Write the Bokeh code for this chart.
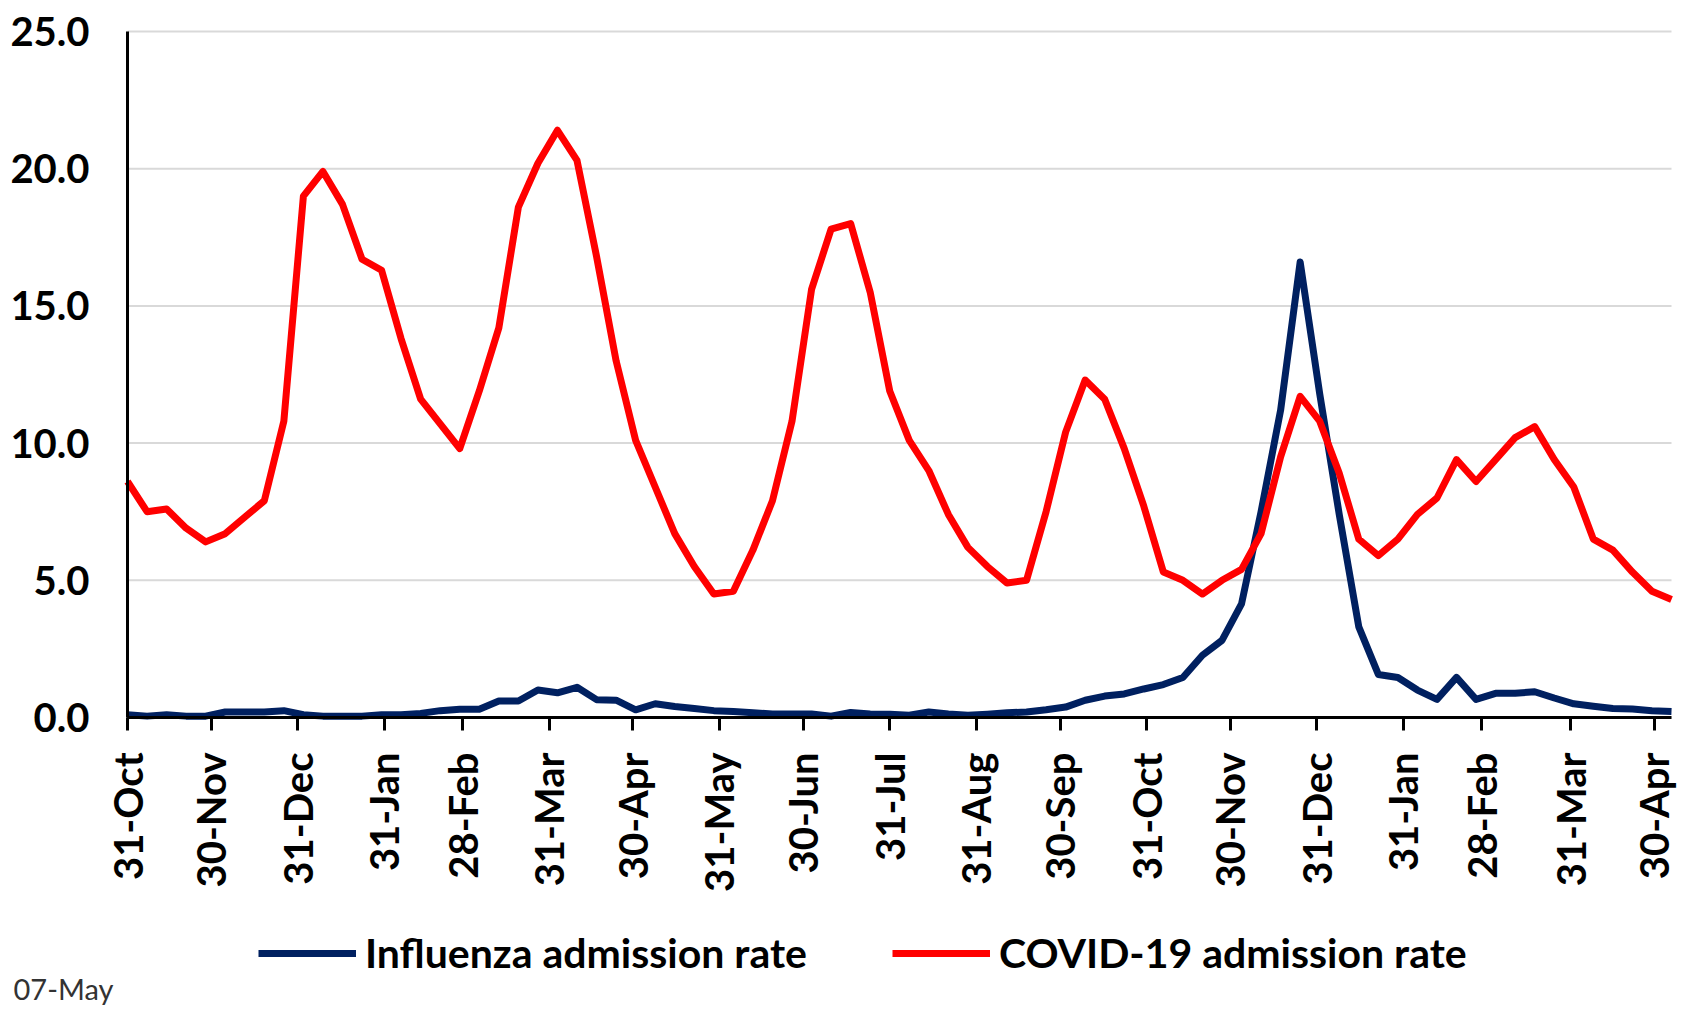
import math
import numpy as np
import pandas as pd
from bokeh.plotting import figure
from bokeh.models import (Range1d, FixedTicker, Legend, Label, NumeralTickFormatter,
                          CustomJSTickFormatter)
from bokeh.embed import file_html
from bokeh.resources import INLINE

# ---------------- data ----------------
start_date = "2022-10-31"   # first weekly point

covid_rate = [8.6, 7.5, 7.6, 6.9, 6.4, 6.7, 7.3, 7.9, 10.8, 19.0,
              19.9, 18.7, 16.7, 16.3, 13.8, 11.6, 10.7, 9.8, 11.9, 14.2,
              18.6, 20.2, 21.4, 20.3, 16.8, 13.0, 10.1, 8.4, 6.7, 5.5,
              4.5, 4.6, 6.1, 7.9, 10.8, 15.6, 17.8, 18.0, 15.5, 11.9,
              10.1, 9.0, 7.4, 6.2, 5.5, 4.9, 5.0, 7.5, 10.4, 12.3,
              11.6, 9.8, 7.7, 5.3, 5.0, 4.5, 5.0, 5.4, 6.7, 9.5,
              11.7, 10.8, 8.9, 6.5, 5.9, 6.5, 7.4, 8.0, 9.4, 8.6,
              9.4, 10.2, 10.6, 9.4, 8.4, 6.5, 6.1, 5.3, 4.6, 4.3]

flu_rate = [0.10, 0.05, 0.10, 0.05, 0.05, 0.20, 0.20, 0.20, 0.25, 0.10,
            0.05, 0.05, 0.05, 0.10, 0.10, 0.15, 0.25, 0.30, 0.30, 0.60,
            0.60, 1.00, 0.90, 1.10, 0.65, 0.63, 0.28, 0.50, 0.40, 0.33,
            0.25, 0.22, 0.17, 0.13, 0.13, 0.13, 0.05, 0.18, 0.13, 0.12,
            0.08, 0.20, 0.13, 0.08, 0.12, 0.17, 0.20, 0.28, 0.38, 0.63,
            0.78, 0.86, 1.04, 1.20, 1.46, 2.27, 2.81, 4.14, 7.50, 11.2,
            16.6, 11.8, 7.40, 3.30, 1.57, 1.46, 1.00, 0.66, 1.46, 0.66,
            0.88, 0.88, 0.94, 0.71, 0.50, 0.41, 0.33, 0.31, 0.25, 0.22]

tick_dates = ["2022-10-31", "2022-11-30", "2022-12-31", "2023-01-31", "2023-02-28",
              "2023-03-31", "2023-04-30", "2023-05-31", "2023-06-30", "2023-07-31",
              "2023-08-31", "2023-09-30", "2023-10-31", "2023-11-30", "2023-12-31",
              "2024-01-31", "2024-02-28", "2024-03-31", "2024-04-30"]
tick_labels = ["31-Oct", "30-Nov", "31-Dec", "31-Jan", "28-Feb", "31-Mar", "30-Apr",
               "31-May", "30-Jun", "31-Jul", "31-Aug", "30-Sep", "31-Oct", "30-Nov",
               "31-Dec", "31-Jan", "28-Feb", "31-Mar", "30-Apr"]
y_ticks = [0, 5, 10, 15, 20, 25]
series_names = ["Influenza admission rate", "COVID-19 admission rate"]
footnote = "07-May"

# ---------------- build ----------------
FONT = "Lato"
NAVY = "#002060"
RED = "#FF0000"

W, H = 1677, 1005                # canvas
PLOT_L, PLOT_R = 127, 1671       # plotting area (px, from canvas left)
PLOT_T, PLOT_B = 31, 717         # plotting area (px, from canvas top)
Y_MIN, Y_MAX = 0, 25


def to_ms(d):
    return pd.Timestamp(d).timestamp() * 1000.0


dates = pd.date_range(start_date, periods=len(covid_rate), freq="7D")
x = np.array([to_ms(d) for d in dates])
tick_ms = [to_ms(d) for d in tick_dates]
x0, x1 = float(x[0]), float(x[-1])

# ranges that put the data area exactly at PLOT_* and let the frame fill the canvas
ppx = (PLOT_R - PLOT_L) / (x1 - x0)
ppy = (PLOT_B - PLOT_T) / (Y_MAX - Y_MIN)
xr = Range1d(x0 - PLOT_L / ppx, x1 + (W - PLOT_R) / ppx)
yr = Range1d(Y_MIN - (H - PLOT_B) / ppy, Y_MAX + PLOT_T / ppy)

p = figure(frame_width=W, frame_height=H, output_backend="svg",
           toolbar_location=None, x_range=xr, y_range=yr,
           min_border_left=0, min_border_right=0, min_border_top=0,
           min_border_bottom=0)
p.outline_line_color = None
p.background_fill_color = "white"
p.border_fill_color = "white"
p.xgrid.visible = False
p.ygrid.visible = False

# horizontal gridlines over the data area only
p.segment(x0=[x0] * len(y_ticks), y0=y_ticks, x1=[x1] * len(y_ticks), y1=y_ticks,
          line_color="#D9D9D9", line_width=2)

# x axis (sits at y = 0)
xa = p.xaxis[0]
xa.fixed_location = 0
xa.bounds = (x0, x1)
xa.ticker = FixedTicker(ticks=tick_ms)
xa.formatter = CustomJSTickFormatter(
    args=dict(tvals=tick_ms, tlabs=tick_labels),
    code="""
        let best = -1, bd = Infinity;
        for (let i = 0; i < tvals.length; i++) {
            const d = Math.abs(tvals[i] - tick);
            if (d < bd) { bd = d; best = i; }
        }
        return (best >= 0 && bd < 3600000) ? tlabs[best] : "";
    """)
xa.major_label_orientation = math.pi / 2
xa.major_label_text_font = FONT
xa.major_label_text_font_style = "bold"
xa.major_label_text_font_size = "40px"
xa.major_label_text_color = "black"
xa.axis_line_color = "black"
xa.axis_line_width = 3
xa.major_tick_line_color = "black"
xa.major_tick_line_width = 3
xa.major_tick_out = 13
xa.major_tick_in = 0
xa.minor_tick_line_color = None
xa.major_label_standoff = 22

# y axis (sits at the first date)
ya = p.yaxis[0]
ya.fixed_location = x0
ya.bounds = (Y_MIN, Y_MAX)
ya.ticker = FixedTicker(ticks=y_ticks)
ya.formatter = NumeralTickFormatter(format="0.0")
ya.major_label_text_font = FONT
ya.major_label_text_font_style = "bold"
ya.major_label_text_font_size = "40px"
ya.major_label_text_color = "black"
ya.axis_line_color = "black"
ya.axis_line_width = 3
ya.major_tick_line_color = None
ya.minor_tick_line_color = None
ya.major_tick_out = 0
ya.major_tick_in = 0
ya.major_label_standoff = 38

# lines
r_flu = p.line(x, flu_rate, line_color=NAVY, line_width=7, line_join="round")
r_cov = p.line(x, covid_rate, line_color=RED, line_width=7, line_join="round")

legend = Legend(items=[(series_names[0], [r_flu]), (series_names[1], [r_cov])],
                orientation="horizontal", location=(258, 28),
                label_text_font=FONT, label_text_font_style="bold",
                label_text_font_size="41px", label_text_color="black",
                glyph_width=98, glyph_height=44, label_height=44,
                label_standoff=9, spacing=85,
                border_line_color=None, background_fill_alpha=0,
                padding=0, margin=0)
p.add_layout(legend, "center")

p.add_layout(Label(x=13, y=17, x_units="screen", y_units="screen",
                   text=footnote, text_font=FONT, text_font_size="29px",
                   text_baseline="alphabetic", text_align="left",
                   text_color="#333333"))

open("out.html", "w").write(file_html(p, INLINE))
